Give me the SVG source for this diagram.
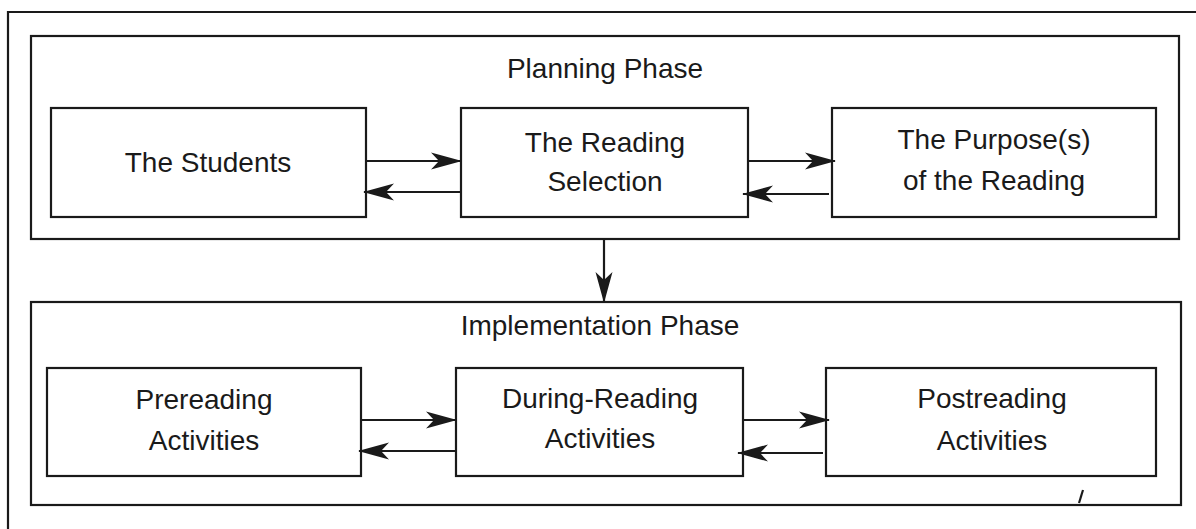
<svg xmlns="http://www.w3.org/2000/svg" width="1196" height="529" viewBox="0 0 1196 529">
  <style>
    .box { fill: none; stroke: #1a1a1a; stroke-width: 2.2; }
    .lbl { font-family: "Liberation Sans", Arial, sans-serif; font-size: 28px; fill: #1a1a1a; text-anchor: middle; }
    .conn { stroke: #1a1a1a; stroke-width: 2.2; fill: none; marker-end: url(#ah); }
  </style>
  <defs>
    <marker id="ah" markerUnits="userSpaceOnUse" markerWidth="40" markerHeight="24" viewBox="-32 -12 34 24" refX="0" refY="0" orient="auto">
      <path d="M1,0 L-30,-8.5 L-22,0 L-30,8.5 Z" fill="#1a1a1a"/>
    </marker>
  </defs>
  <rect width="1196" height="529" fill="#ffffff"/>
  <g id="frame">
    <path d="M8,529 L8,12 L1196,12" class="box"/>
  </g>
  <g id="planning-phase">
    <rect x="31" y="36" width="1148" height="203" class="box"/>
    <text x="605" y="78" class="lbl">Planning Phase</text>
  </g>
  <g id="the-students">
    <rect x="51" y="108" width="315" height="109" class="box"/>
    <text x="208" y="172" class="lbl">The Students</text>
  </g>
  <g id="reading-selection">
    <rect x="461" y="108" width="287" height="109" class="box"/>
    <text x="605" y="152" class="lbl">The Reading</text>
    <text x="605" y="191" class="lbl">Selection</text>
  </g>
  <g id="purposes">
    <rect x="832" y="108" width="324" height="109" class="box"/>
    <text x="994" y="149" class="lbl">The Purpose(s)</text>
    <text x="994" y="190" class="lbl">of the Reading</text>
  </g>
  <g id="implementation-phase">
    <rect x="31" y="302" width="1150" height="203" class="box"/>
    <text x="600" y="335" class="lbl">Implementation Phase</text>
  </g>
  <g id="prereading">
    <rect x="47" y="368" width="314" height="108" class="box"/>
    <text x="204" y="409" class="lbl">Prereading</text>
    <text x="204" y="450" class="lbl">Activities</text>
  </g>
  <g id="during-reading">
    <rect x="456" y="368" width="287" height="108" class="box"/>
    <text x="600" y="408" class="lbl">During-Reading</text>
    <text x="600" y="448" class="lbl">Activities</text>
  </g>
  <g id="postreading">
    <rect x="826" y="368" width="330" height="108" class="box"/>
    <text x="992" y="408" class="lbl">Postreading</text>
    <text x="992" y="450" class="lbl">Activities</text>
  </g>
  <g id="connectors">
    <line x1="366" y1="161" x2="461" y2="161" class="conn"/>
    <line x1="461" y1="192" x2="364" y2="192" class="conn"/>
    <line x1="748" y1="161" x2="835" y2="161" class="conn"/>
    <line x1="829" y1="194" x2="743" y2="194" class="conn"/>
    <line x1="604" y1="239" x2="604" y2="302" class="conn"/>
    <line x1="361" y1="420" x2="456" y2="420" class="conn"/>
    <line x1="456" y1="451" x2="359" y2="451" class="conn"/>
    <line x1="743" y1="420" x2="829" y2="420" class="conn"/>
    <line x1="823" y1="453" x2="738" y2="453" class="conn"/>
  </g>
  <path d="M1083,490 L1079,503" stroke="#1a1a1a" stroke-width="2.2" fill="none"/>
</svg>
